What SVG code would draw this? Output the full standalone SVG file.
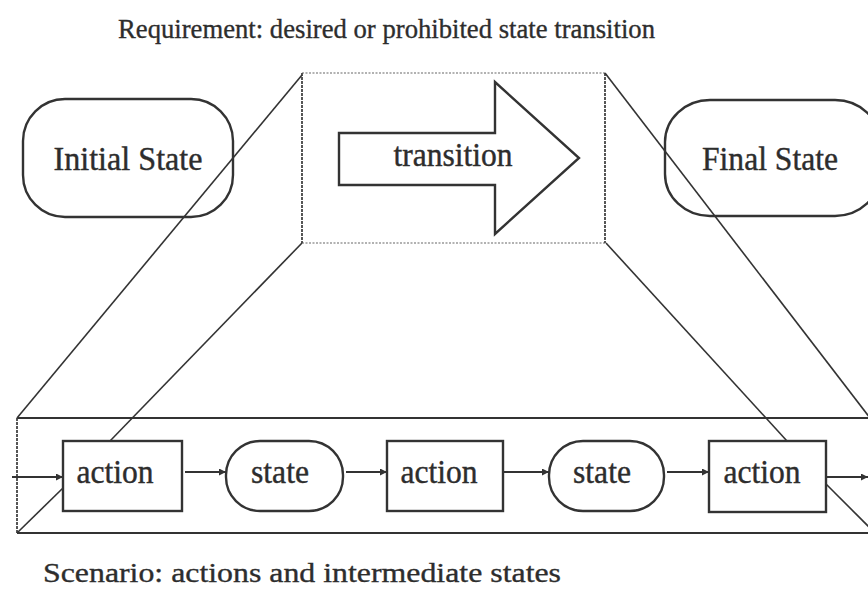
<svg xmlns="http://www.w3.org/2000/svg" width="868" height="589" viewBox="0 0 868 589">
  <defs>
    <marker id="head" viewBox="0 0 10 10" refX="10" refY="5" markerWidth="9" markerHeight="7" markerUnits="userSpaceOnUse" orient="auto">
      <path d="M0,0 L10,5 L0,10 Z" fill="#333"/>
    </marker>
  </defs>
  <style>
    .caption { font-family: "Liberation Serif", "Times New Roman", serif; font-size: 28px; fill: #2d2d2d; stroke: #2d2d2d; stroke-width: 0.35; }
    .label { font-family: "Liberation Serif", "Times New Roman", serif; font-size: 33px; fill: #2d2d2d; stroke: #2d2d2d; stroke-width: 0.4; text-anchor: middle; }
    .shape { fill: none; stroke: #333; stroke-width: 2.4; }
    .proj { stroke: #333; stroke-width: 1.6; fill: none; }
    .flow { stroke: #333; stroke-width: 2; fill: none; marker-end: url(#head); }
    .frameSide { stroke: #444; stroke-width: 1.8; stroke-dasharray: 3 1; fill: none; }
    .frameEdge { stroke: #999; stroke-width: 1.6; stroke-dasharray: 2 1.5; fill: none; }
    .band { stroke: #333; stroke-width: 2; fill: none; }
  </style>

  <rect width="868" height="589" fill="#fff"/>

  <text class="caption" x="118" y="38" textLength="537" lengthAdjust="spacingAndGlyphs">Requirement: desired or prohibited state transition</text>
  <text class="caption" x="43" y="582" textLength="518" lengthAdjust="spacingAndGlyphs">Scenario: actions and intermediate states</text>

  <!-- zoom frame around the transition -->
  <g id="transition-frame">
    <line class="frameEdge" x1="302" y1="73" x2="606" y2="73"/>
    <line class="frameEdge" x1="302" y1="243" x2="606" y2="243"/>
    <line class="frameSide" x1="302" y1="73" x2="302" y2="243"/>
    <line class="frameSide" x1="605" y1="73" x2="605" y2="243"/>
  </g>

  <!-- scenario band -->
  <g id="scenario-frame">
    <line class="band" x1="17" y1="418" x2="868" y2="418"/>
    <line class="band" x1="17" y1="533" x2="868" y2="533"/>
    <line class="frameSide" x1="17" y1="418" x2="17" y2="533"/>
  </g>

  <g id="initial-state">
    <rect class="shape" x="23" y="99" width="210" height="118" rx="42" ry="42"/>
    <text class="label" x="128" y="170" textLength="149" lengthAdjust="spacingAndGlyphs">Initial State</text>
  </g>

  <g id="transition">
    <polygon class="shape" points="339,133 495,133 495,82 579,158 495,234 495,185 339,185"/>
    <text class="label" x="453" y="166" textLength="119" lengthAdjust="spacingAndGlyphs">transition</text>
  </g>

  <g id="final-state">
    <rect class="shape" x="665" y="100" width="215" height="116" rx="45" ry="42"/>
    <text class="label" x="770" y="170" textLength="136" lengthAdjust="spacingAndGlyphs">Final State</text>
  </g>

  <g id="action-1">
    <rect class="shape" x="63" y="441" width="119" height="70"/>
    <text class="label" x="115" y="483" textLength="77" lengthAdjust="spacingAndGlyphs">action</text>
  </g>
  <g id="state-1">
    <rect class="shape" x="226" y="441" width="117" height="70" rx="34" ry="34"/>
    <text class="label" x="280" y="483" textLength="58" lengthAdjust="spacingAndGlyphs">state</text>
  </g>
  <g id="action-2">
    <rect class="shape" x="387" y="441" width="116" height="70"/>
    <text class="label" x="439" y="483" textLength="77" lengthAdjust="spacingAndGlyphs">action</text>
  </g>
  <g id="state-2">
    <rect class="shape" x="549" y="441" width="115" height="70" rx="34" ry="34"/>
    <text class="label" x="602" y="483" textLength="58" lengthAdjust="spacingAndGlyphs">state</text>
  </g>
  <g id="action-3">
    <rect class="shape" x="709" y="441" width="117" height="71"/>
    <text class="label" x="762" y="483" textLength="77" lengthAdjust="spacingAndGlyphs">action</text>
  </g>

  <g id="connectors">
    <!-- projection lines between the levels -->
    <line class="proj" x1="302" y1="75" x2="17" y2="418"/>
    <line class="proj" x1="302" y1="243" x2="110" y2="441"/>
    <line class="proj" x1="605" y1="73" x2="870" y2="418"/>
    <line class="proj" x1="606" y1="243" x2="787" y2="441"/>
    <line class="proj" x1="17" y1="533" x2="63" y2="488"/>
    <line class="proj" x1="826" y1="484" x2="876" y2="534"/>
    <!-- scenario flow -->
    <line class="flow" x1="12" y1="477" x2="63" y2="477"/>
    <line class="flow" x1="185" y1="472" x2="226" y2="472"/>
    <line class="flow" x1="346" y1="472" x2="387" y2="472"/>
    <line class="flow" x1="503" y1="472" x2="549" y2="472"/>
    <line class="flow" x1="667" y1="472" x2="709" y2="472"/>
    <line class="flow" x1="826" y1="477" x2="868" y2="477"/>
  </g>
</svg>
